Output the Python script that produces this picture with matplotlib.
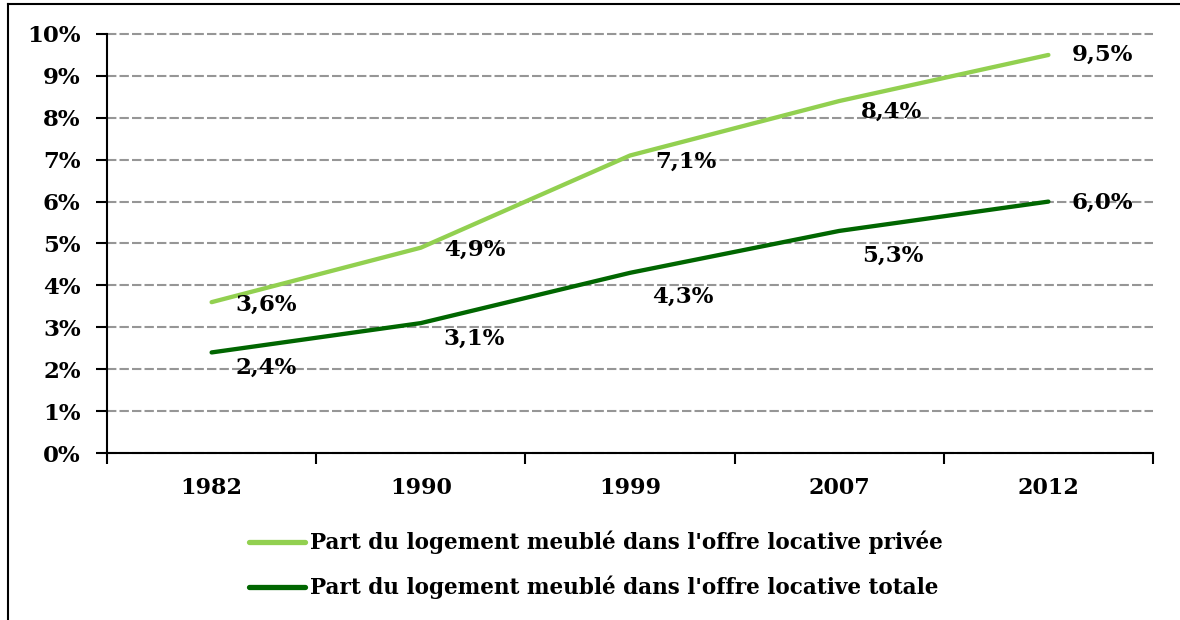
import matplotlib
matplotlib.use("Agg")
import matplotlib.pyplot as plt
from matplotlib.ticker import FixedLocator, FuncFormatter
from matplotlib.lines import Line2D

years = ["1982", "1990", "1999", "2007", "2012"]
prive = [3.6, 4.9, 7.1, 8.4, 9.5]
totale = [2.4, 3.1, 4.3, 5.3, 6.0]
label_prive = "Part du logement meublé dans l'offre locative privée"
label_totale = "Part du logement meublé dans l'offre locative totale"

# label offsets in pixels (dx, dy) relative to each point
off_prive = [(24, -3), (23, -2), (25, -6), (22, -11), (23, 0)]
off_totale = [(24, -15), (23, -16), (22, -24), (23, -25), (23, -1)]

light = "#92D050"
dark = "#006600"

font = "DejaVu Serif"
plt.rcParams['font.family'] = [font]
plt.rcParams['font.weight'] = 'bold'

W, H = 1180, 620
fig = plt.figure(figsize=(W / 100, H / 100), dpi=100)
ax = fig.add_axes([107 / W, 1 - 453 / H, (1153 - 107) / W, (453 - 34) / H])

x = list(range(len(years)))
ax.plot(x, prive, color=light, lw=3.1, solid_capstyle='round', zorder=3)
ax.plot(x, totale, color=dark, lw=3.1, solid_capstyle='round', zorder=3)

px = 72 / 100
for xs, vals, offs in ((x, prive, off_prive), (x, totale, off_totale)):
    for xi, v, (dx, dy) in zip(xs, vals, offs):
        ax.annotate(f"{v:.1f}%".replace(".", ","), (xi, v),
                    xytext=(dx * px, dy * px), textcoords='offset points',
                    ha='left', va='center', fontsize=16.5, fontweight='bold')

ax.set_xlim(-0.5, len(years) - 0.5)
ax.set_ylim(0, 10)
ax.set_xticks(x)
ax.set_xticklabels(years)
ax.xaxis.set_minor_locator(FixedLocator([i - 0.5 for i in range(len(years) + 1)]))
ax.tick_params(axis='x', which='major', length=0, pad=17, labelsize=16)
ax.tick_params(axis='x', which='minor', length=8, width=1.5, direction='out')
ax.set_yticks(range(0, 11))
ax.yaxis.set_major_formatter(FuncFormatter(lambda v, p: f"{int(v)}%"))
ax.tick_params(axis='y', length=8, width=1.5, direction='out', pad=11, labelsize=16.5)
ax.grid(axis='y', color='#969696', ls=(0, (4.5, 1.5)), lw=1.5, zorder=1)
for gl in ax.get_ygridlines():
    gl.set_clip_on(False)
ax.set_axisbelow(True)
for s in ('top', 'right'):
    ax.spines[s].set_visible(False)
for s in ('left', 'bottom'):
    ax.spines[s].set_linewidth(1.5)
    ax.spines[s].set_zorder(4)

handles = [Line2D([], [], color=light, lw=3.8, solid_capstyle='round'),
           Line2D([], [], color=dark, lw=3.8, solid_capstyle='round')]
fs_leg = 15.5
fig.legend(handles, [label_prive, label_totale], loc='center left',
           bbox_to_anchor=(230 / W, 1 - 565 / H), frameon=False,
           prop={'size': fs_leg, 'weight': 'bold', 'family': font},
           handlelength=2.6, handletextpad=0.2, labelspacing=1.0)

# outer frame (left and top edges)
fig.add_artist(Line2D([8 / W, 8 / W], [0, 1 - 4 / H], color='black', lw=1.5,
                      transform=fig.transFigure))
fig.add_artist(Line2D([8 / W, 1], [1 - 4 / H, 1 - 4 / H], color='black', lw=1.5,
                      transform=fig.transFigure))

fig.savefig("out.png", dpi=100)
